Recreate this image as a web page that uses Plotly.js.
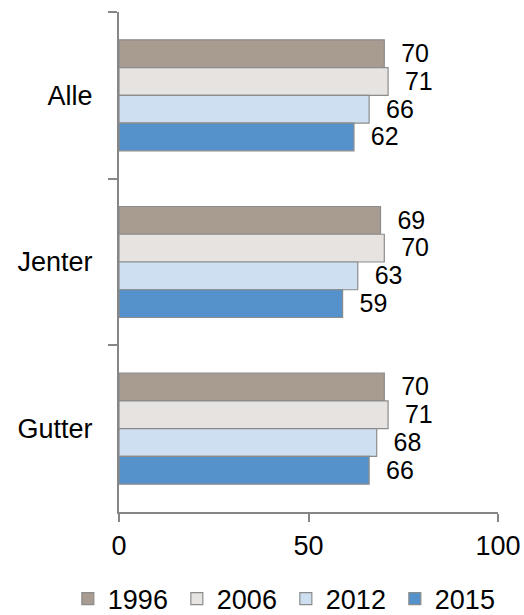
<!DOCTYPE html>
<html>
<head>
<meta charset="utf-8">
<script src="https://cdn.plot.ly/plotly-3.0.1.min.js"></script>
<style>html,body{margin:0;padding:0;background:#fff;}#chart{width:524px;height:615px;}</style>
</head>
<body>
<div id="chart"></div>
<script>
const categories = ["Alle", "Jenter", "Gutter"];
const years = ["1996", "2006", "2012", "2015"];
const v1996 = [70, 69, 70];
const v2006 = [71, 70, 71];
const v2012 = [66, 63, 68];
const v2015 = [62, 59, 66];
const xTicks = [0, 50, 100];

const series = [v1996, v2006, v2012, v2015];
const colors = ["#a89b90", "#e6e3e0", "#cddff0", "#5591cb"];
const FONT = "Liberation Sans, Arial, sans-serif";
const FS = 27;

const traces = series.map((vals, i) => ({
  type: "bar",
  orientation: "h",
  name: years[i],
  x: vals,
  y: categories,
  text: vals.map(v => "\u00a0\u00a0" + v),
  textposition: "outside",
  cliponaxis: false,
  textfont: {family: FONT, size: FS, color: "#000"},
  marker: {color: colors[i], line: {color: "#8c8c8c", width: 1.2}},
  hoverinfo: "skip"
}));

const layout = {
  width: 524, height: 615,
  margin: {l: 119, r: 26, t: 12, b: 103, autoexpand: false},
  paper_bgcolor: "#fff", plot_bgcolor: "#fff",
  barmode: "group",
  bargap: 0.334,
  bargroupgap: 0,
  showlegend: true,
  font: {family: FONT, size: FS, color: "#000"},
  xaxis: {
    range: [0, 100], tickvals: xTicks, ticktext: xTicks.map(String),
    showgrid: false, zeroline: false,
    showline: true, linecolor: "#868686", linewidth: 2,
    ticks: "outside", ticklen: 8, tickcolor: "#868686", tickwidth: 2,
    tickfont: {family: FONT, size: FS, color: "#000"},
    ticklabelstandoff: 1
  },
  yaxis: {
    autorange: "reversed",
    showgrid: false, zeroline: false,
    showline: true, linecolor: "#868686", linewidth: 2,
    ticks: "outside", ticklen: 9, tickcolor: "#868686", tickwidth: 2,
    tickson: "boundaries",
    tickfont: {family: FONT, size: FS, color: "#000"},
    ticklabelstandoff: 19
  },
  legend: {
    orientation: "h",
    x: -0.135, xanchor: "left",
    y: -0.174, yanchor: "middle",
    font: {family: FONT, size: FS, color: "#000"},
    itemwidth: 30,
    entrywidth: 64, entrywidthmode: "pixels",
    traceorder: "normal"
  }
};

Plotly.newPlot("chart", traces, layout, {displayModeBar: false, staticPlot: true});
</script>
</body>
</html>
